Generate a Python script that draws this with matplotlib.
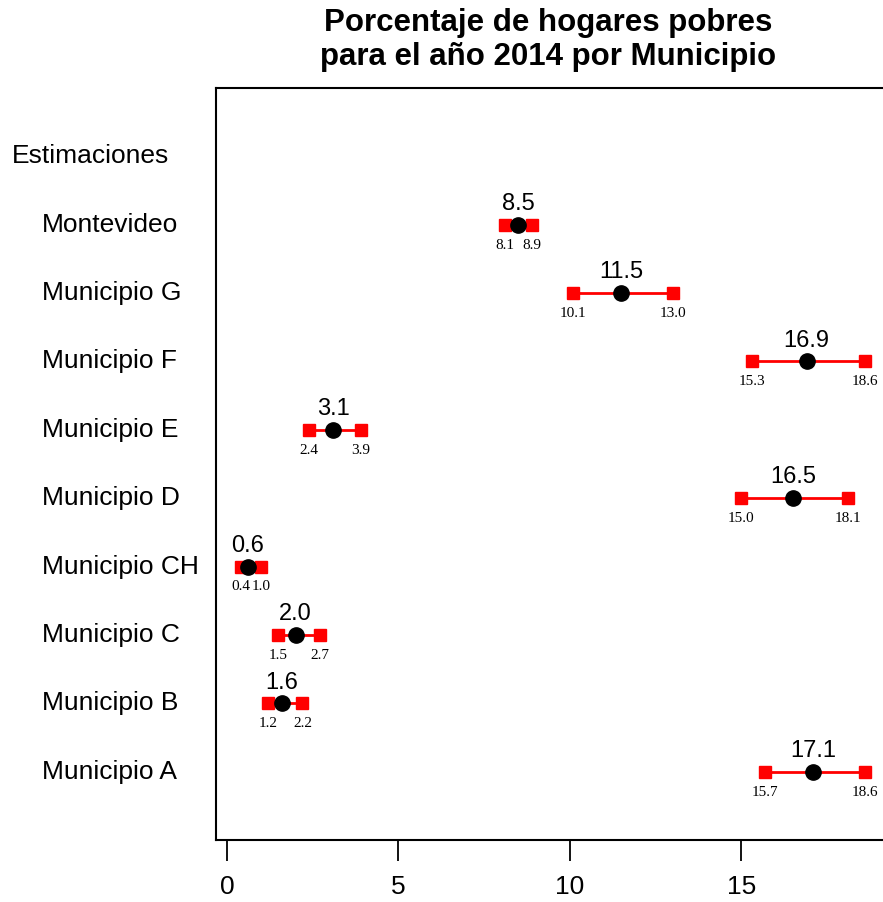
import numpy as np
import matplotlib
matplotlib.use("Agg")
import matplotlib.pyplot as plt
import matplotlib.transforms as mtransforms

# -------------------------
# Data (bottom to top)
# -------------------------

municipios = ["Municipio A", "Municipio B", "Municipio C", "Municipio CH",
              "Municipio D", "Municipio E", "Municipio F", "Municipio G",
              "Montevideo"]
estimacion = [17.1, 1.6, 2.0, 0.6, 16.5, 3.1, 16.9, 11.5, 8.5]
limite_inf = [15.7, 1.2, 1.5, 0.4, 15.0, 2.4, 15.3, 10.1, 8.1]
limite_sup = [18.6, 2.2, 2.7, 1.0, 18.1, 3.9, 18.6, 13.0, 8.9]
x_ticks = [0, 5, 10, 15]

plt.rcParams["font.family"] = ["Liberation Sans", "DejaVu Sans"]

W, H = 883, 902
fig = plt.figure(figsize=(W / 100, H / 100), dpi=100)
ax = fig.add_axes([216 / W, 1 - 840 / H, (883 - 216) / W, (840 - 88) / H])

ypos = np.arange(len(municipios))

for y, e, lo, hi in zip(ypos, estimacion, limite_inf, limite_sup):
    ax.plot([lo, hi], [y, y], color="red", lw=2, zorder=2)
    ax.plot([lo, hi], [y, y], ls="none", marker="s", ms=9, color="red", zorder=3)
    ax.plot([e], [y], ls="none", marker="o", ms=11, color="black", zorder=4)
    ax.annotate(f"{e:.1f}", (e, y), xytext=(0, 7), textcoords="offset points",
                ha="center", va="bottom", fontsize=17)
    for v in (lo, hi):
        ax.annotate(f"{v:.1f}", (v, y), xytext=(0, -10), textcoords="offset points",
                    ha="center", va="top", fontsize=11,
                    family=["Liberation Serif", "DejaVu Serif"])

ax.set_xlim(-0.32, 19.13)
ax.set_ylim(-1, len(municipios) + 1)

# row labels on the left
trans = mtransforms.blended_transform_factory(fig.transFigure, ax.transData)
for y, name in zip(ypos, municipios):
    ax.text(42 / W, y, name, transform=trans, ha="left", va="center",
            fontsize=19, clip_on=False)
ax.text(12 / W, len(municipios), "Estimaciones", transform=trans, ha="left",
        va="center", fontsize=19, clip_on=False)

ax.set_yticks([])
ax.set_xticks(x_ticks)
ax.set_xticklabels([str(t) for t in x_ticks], fontsize=19)
ax.tick_params(axis="x", length=15, width=1.3, pad=10)
ax.spines["right"].set_visible(False)
for s in ("left", "top", "bottom"):
    ax.spines[s].set_linewidth(1.5)

fig.text(548 / W, 1 - 40 / H, "Porcentaje de hogares pobres\npara el año 2014 por Municipio",
         ha="center", va="center", fontsize=22.5, fontweight="bold", linespacing=1.2)

fig.savefig("out.png", dpi=100)
